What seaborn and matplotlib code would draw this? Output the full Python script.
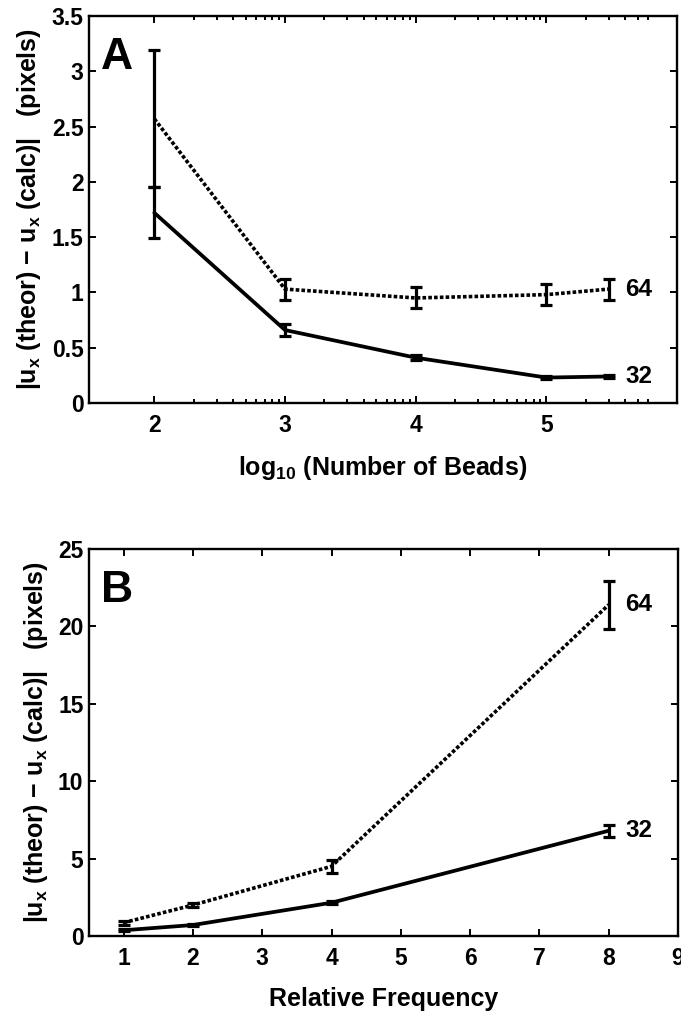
import numpy as np
import pandas as pd
import seaborn as sns
import matplotlib.pyplot as plt
from matplotlib.ticker import FixedLocator, FixedFormatter

# Panel A: error vs number of beads (log scale)
beads = [1e2, 1e3, 1e4, 1e5, 3e5]
err64_a = [2.57, 1.03, 0.95, 0.98, 1.03]
sd64_a = [0.62, 0.095, 0.095, 0.095, 0.095]
err32_a = [1.72, 0.66, 0.41, 0.23, 0.24]
sd32_a = [0.23, 0.05, 0.02, 0.015, 0.015]

# Panel B: error vs relative frequency
freq = [1, 2, 4, 8]
err64_b = [0.86, 2.0, 4.5, 21.4]
sd64_b = [0.12, 0.15, 0.42, 1.55]
err32_b = [0.37, 0.71, 2.15, 6.8]
sd32_b = [0.05, 0.05, 0.08, 0.4]

bead_ticks = ['2', '3', '4', '5']

sns.set_style('ticks')
plt.rcParams['font.family'] = ['Liberation Sans', 'DejaVu Sans']
plt.rcParams['font.weight'] = 'bold'
plt.rcParams['text.color'] = 'black'
plt.rcParams['axes.labelcolor'] = 'black'
plt.rcParams['mathtext.fontset'] = 'custom'
plt.rcParams['mathtext.rm'] = 'Liberation Sans:bold'
plt.rcParams['mathtext.default'] = 'rm'

fig = plt.figure(figsize=(6.81, 10.18), dpi=100)
W, H = 681, 1018
axA = fig.add_axes([89 / W, 1 - 403 / H, (677 - 89) / W, (403 - 16) / H])
axB = fig.add_axes([89 / W, 1 - 936 / H, (678 - 89) / W, (936 - 549) / H])

ylab = r'$|$u$_{\mathregular{x}}$ (theor) $-$ u$_{\mathregular{x}}$ (calc)$|$   (pixels)'
FS = 16.5


def draw(ax, x, e64, s64, e32, s32):
    df = pd.DataFrame({'x': x, 'e64': e64, 'e32': e32})
    sns.lineplot(data=df, x='x', y='e64', ax=ax, color='black', lw=2.6,
                 linestyle=(0, (1, 0.6)), sort=False)
    sns.lineplot(data=df, x='x', y='e32', ax=ax, color='black', lw=2.7,
                 linestyle='-', sort=False)
    ax.errorbar(x, e64, yerr=s64, fmt='none', ecolor='black', elinewidth=2.3,
                capsize=4, capthick=2.3)
    ax.errorbar(x, e32, yerr=s32, fmt='none', ecolor='black', elinewidth=2.3,
                capsize=4, capthick=2.3)
    ax.annotate('64', (x[-1], e64[-1]), xytext=(12, 0), textcoords='offset points',
                fontsize=17.5, fontweight='bold', va='center', ha='left', color='black')
    ax.annotate('32', (x[-1], e32[-1]), xytext=(12, 0), textcoords='offset points',
                fontsize=17.5, fontweight='bold', va='center', ha='left', color='black')
    for s in ax.spines.values():
        s.set_linewidth(1.7)
        s.set_color('black')
    ax.tick_params(which='both', direction='in', top=True, right=True,
                   labelsize=FS, width=1.4, colors='black')
    ax.tick_params(which='major', length=5)
    ax.tick_params(which='minor', length=3)
    ax.tick_params(axis='x', pad=8)
    ax.tick_params(axis='y', pad=4)
    ax.set_ylabel(ylab, fontsize=18, fontweight='bold', labelpad=6, color='black')


# panel A
axA.set_xscale('log')
draw(axA, beads, err64_a, sd64_a, err32_a, sd32_a)
axA.set_xlim(10 ** 1.5, 10 ** 6)
axA.set_ylim(0, 3.5)
axA.xaxis.set_major_locator(FixedLocator([1e2, 1e3, 1e4, 1e5]))
axA.xaxis.set_major_formatter(FixedFormatter(bead_ticks))
minors = [k * 10 ** n for n in range(2, 5) for k in range(2, 10)] + [k * 1e5 for k in range(2, 7)]
axA.xaxis.set_minor_locator(FixedLocator(minors))
axA.xaxis.set_minor_formatter(FixedFormatter([''] * len(minors)))
axA.set_yticks(np.arange(0, 3.51, 0.5))
axA.set_yticklabels(['0', '0.5', '1', '1.5', '2', '2.5', '3', '3.5'])
axA.set_xlabel(r'log$_{\mathregular{10}}$ (Number of Beads)', fontsize=18,
               fontweight='bold', labelpad=12, color='black')
axA.text(0.02, 0.945, 'A', transform=axA.transAxes, fontsize=32,
         fontweight='bold', va='top', ha='left', color='black')

# panel B
draw(axB, freq, err64_b, sd64_b, err32_b, sd32_b)
axB.set_xlim(0.5, 9)
axB.set_ylim(0, 25)
axB.set_xticks(range(1, 10))
axB.set_yticks(range(0, 26, 5))
axB.set_xlabel('Relative Frequency', fontsize=18, fontweight='bold', labelpad=12,
               color='black')
axB.text(0.02, 0.945, 'B', transform=axB.transAxes, fontsize=32,
         fontweight='bold', va='top', ha='left', color='black')

fig.savefig('out.png', dpi=100, facecolor='white')
